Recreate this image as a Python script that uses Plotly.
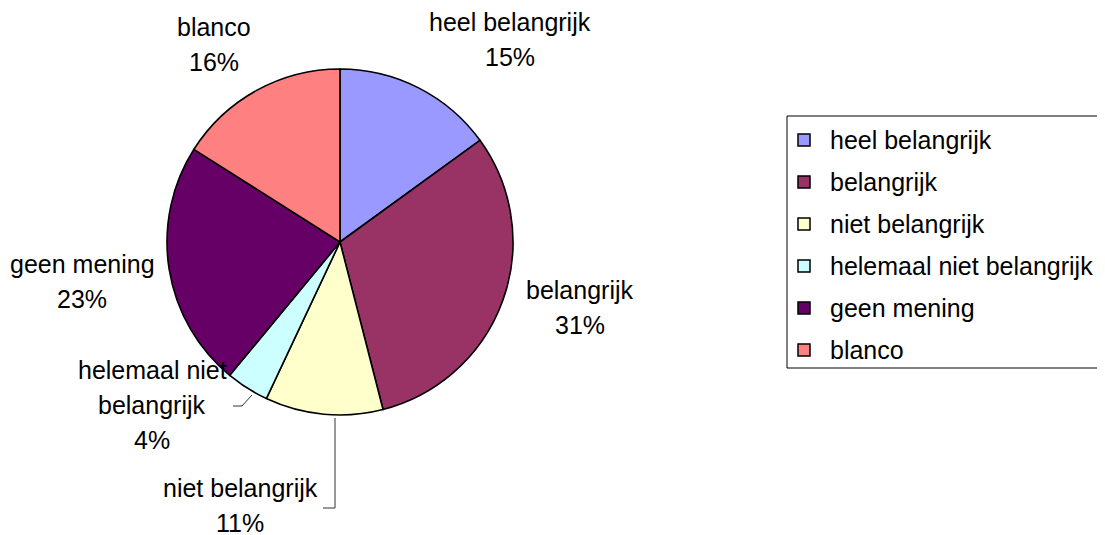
import plotly.graph_objects as go

# -------------------------------
# Data
# -------------------------------
labels = ["heel belangrijk", "belangrijk", "niet belangrijk",
          "helemaal niet belangrijk", "geen mening", "blanco"]
values = [15, 31, 11, 4, 23, 16]
colors = ["#9999FF", "#993366", "#FFFFCC", "#CCFFFF", "#660066", "#FF8080"]

# how the data labels wrap in the chart
label_lines = [["heel belangrijk"], ["belangrijk"], ["niet belangrijk"],
               ["helemaal niet", "belangrijk"], ["geen mening"], ["blanco"]]

# -------------------------------
# Layout (page pixels)
# -------------------------------
W, H = 1105, 535
OFF = 8  # page body margin
FONT = "Liberation Sans, Arial, sans-serif"
FS = 25
cx, cy, r = 340, 242, 173

# center x / first line y of each data label, line spacing
label_pos = [(510, 22), (580, 290), (240, 488), (152, 370), (82, 264), (214, 27)]
LINE = 35

total = sum(values)
pcts = [f"{v / total * 100:.0f}%" for v in values]

fig = go.Figure()
fig.add_trace(go.Pie(
    labels=labels,
    values=values,
    marker=dict(colors=colors, line=dict(color="black", width=1.6)),
    sort=False,
    direction="clockwise",
    rotation=0,
    textinfo="none",
    showlegend=False,
    domain=dict(x=[(cx - OFF - r) / W, (cx - OFF + r) / W],
                y=[1 - (cy - OFF + r) / H, 1 - (cy - OFF - r) / H]),
))

annotations = []
shapes = []

# data labels
for lines, pct, (lx, ly) in zip(label_lines, pcts, label_pos):
    for i, t in enumerate(lines + [pct]):
        annotations.append(dict(
            x=lx, y=ly + i * LINE, xref="x", yref="y", text=t,
            showarrow=False, xanchor="center", yanchor="middle",
            font=dict(family=FONT, size=FS, color="black")))

# leader lines
leaders = [
    "M 252 395 L 242 406 L 233 406",
    "M 335 418 L 335 508 L 323 508",
]
for p in leaders:
    shapes.append(dict(type="path", path=p, xref="x", yref="y",
                       line=dict(color="#333333", width=1)))

# legend
shapes.append(dict(type="rect", x0=787, y0=116, x1=W + 20, y1=368,
                   xref="x", yref="y", line=dict(color="black", width=1),
                   fillcolor="white", layer="below"))
for i, (lab, col) in enumerate(zip(labels, colors)):
    yy = 140 + i * 42
    shapes.append(dict(type="rect", x0=798, x1=810, y0=yy - 6, y1=yy + 6,
                       xref="x", yref="y", fillcolor=col,
                       line=dict(color="black", width=1.5)))
    annotations.append(dict(
        x=828, y=yy, xref="x", yref="y", text=lab, showarrow=False,
        xanchor="left", yanchor="middle",
        font=dict(family=FONT, size=FS, color="black")))

fig.update_layout(
    width=W, height=H,
    margin=dict(l=0, r=0, t=0, b=0),
    paper_bgcolor="white", plot_bgcolor="white",
    xaxis=dict(range=[OFF, W + OFF], visible=False, fixedrange=True),
    yaxis=dict(range=[H + OFF, OFF], visible=False, fixedrange=True),
    shapes=shapes,
    annotations=annotations,
    showlegend=False,
)

fig.write_html("out.html")
